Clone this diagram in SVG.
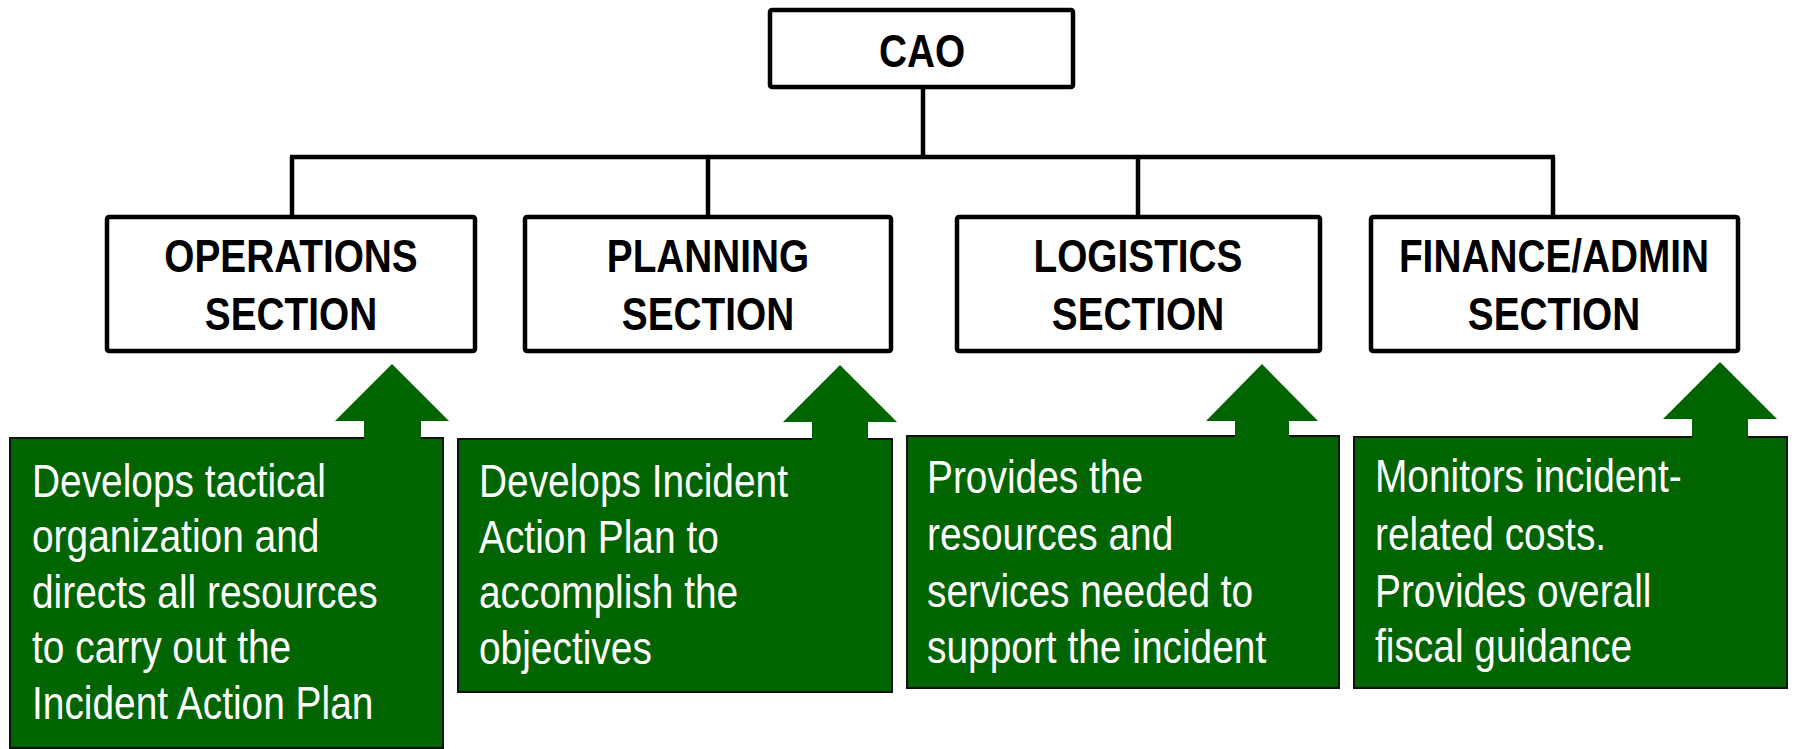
<svg xmlns="http://www.w3.org/2000/svg" width="1797" height="749" viewBox="0 0 1797 749">
<style>
.box{fill:#ffffff;stroke:#000000;stroke-width:4.5}
.conn{stroke:#000000;stroke-width:4.5;fill:none}
.gbox{fill:#006400;stroke:#111111;stroke-width:2}
.arrow{fill:#006400;stroke:none}
.title{font-family:"Liberation Sans",Arial,sans-serif;font-weight:bold;font-size:47px;fill:#000000;text-anchor:middle}
.desc{font-family:"Liberation Sans",Arial,sans-serif;font-size:46px;fill:#ffffff}
</style>
<rect width="1797" height="749" fill="#ffffff"/>
<g id="connectors">
<line class="conn" x1="923" y1="87" x2="923" y2="157"/>
<line class="conn" x1="290" y1="157" x2="1555" y2="157"/>
<line class="conn" x1="292" y1="157" x2="292" y2="217"/>
<line class="conn" x1="708" y1="157" x2="708" y2="217"/>
<line class="conn" x1="1138" y1="157" x2="1138" y2="217"/>
<line class="conn" x1="1553" y1="157" x2="1553" y2="217"/>
</g>
<g id="cao">
<rect class="box" x="770" y="10" width="303" height="77" rx="2"/>
<text class="title" transform="matrix(0.825 0 0 1 922 67)">CAO</text>
</g>
<g id="operations">
<rect class="box" x="107" y="217" width="368" height="134" rx="2"/>
<text class="title" transform="matrix(0.825 0 0 1 291 272)">OPERATIONS</text>
<text class="title" transform="matrix(0.825 0 0 1 291 330)">SECTION</text>
</g>
<g id="planning">
<rect class="box" x="525" y="217" width="366" height="134" rx="2"/>
<text class="title" transform="matrix(0.825 0 0 1 708 272)">PLANNING</text>
<text class="title" transform="matrix(0.825 0 0 1 708 330)">SECTION</text>
</g>
<g id="logistics">
<rect class="box" x="957" y="217" width="363" height="134" rx="2"/>
<text class="title" transform="matrix(0.825 0 0 1 1138 272)">LOGISTICS</text>
<text class="title" transform="matrix(0.825 0 0 1 1138 330)">SECTION</text>
</g>
<g id="finance">
<rect class="box" x="1371" y="217" width="367" height="134" rx="2"/>
<text class="title" transform="matrix(0.825 0 0 1 1554 272)">FINANCE/ADMIN</text>
<text class="title" transform="matrix(0.825 0 0 1 1554 330)">SECTION</text>
</g>
<g id="ops-desc">
<rect class="gbox" x="10" y="438" width="433" height="310"/>
<polygon class="arrow" points="392,364 449,421 421,421 421,440 364,440 364,421 335,421"/>
<text class="desc" transform="matrix(0.845 0 0 1 32 497)">Develops tactical</text>
<text class="desc" transform="matrix(0.845 0 0 1 32 552)">organization and</text>
<text class="desc" transform="matrix(0.845 0 0 1 32 608)">directs all resources</text>
<text class="desc" transform="matrix(0.845 0 0 1 32 663)">to carry out the</text>
<text class="desc" transform="matrix(0.845 0 0 1 32 719)">Incident Action Plan</text>
</g>
<g id="plan-desc">
<rect class="gbox" x="458" y="439" width="434" height="253"/>
<polygon class="arrow" points="840,365 897,422 868,422 868,441 812,441 812,422 783,422"/>
<text class="desc" transform="matrix(0.845 0 0 1 479 497)">Develops Incident</text>
<text class="desc" transform="matrix(0.845 0 0 1 479 553)">Action Plan to</text>
<text class="desc" transform="matrix(0.845 0 0 1 479 608)">accomplish the</text>
<text class="desc" transform="matrix(0.845 0 0 1 479 664)">objectives</text>
</g>
<g id="log-desc">
<rect class="gbox" x="907" y="436" width="432" height="252"/>
<polygon class="arrow" points="1262,364 1318,421 1289,421 1289,438 1235,438 1235,421 1206,421"/>
<text class="desc" transform="matrix(0.845 0 0 1 927 493)">Provides the</text>
<text class="desc" transform="matrix(0.845 0 0 1 927 550)">resources and</text>
<text class="desc" transform="matrix(0.845 0 0 1 927 607)">services needed to</text>
<text class="desc" transform="matrix(0.845 0 0 1 927 663)">support the incident</text>
</g>
<g id="fin-desc">
<rect class="gbox" x="1354" y="437" width="433" height="251"/>
<polygon class="arrow" points="1720,362 1777,419 1748,419 1748,439 1692,439 1692,419 1663,419"/>
<text class="desc" transform="matrix(0.845 0 0 1 1375 492)">Monitors incident-</text>
<text class="desc" transform="matrix(0.845 0 0 1 1375 550)">related costs.</text>
<text class="desc" transform="matrix(0.845 0 0 1 1375 607)">Provides overall</text>
<text class="desc" transform="matrix(0.845 0 0 1 1375 662)">fiscal guidance</text>
</g>
</svg>
